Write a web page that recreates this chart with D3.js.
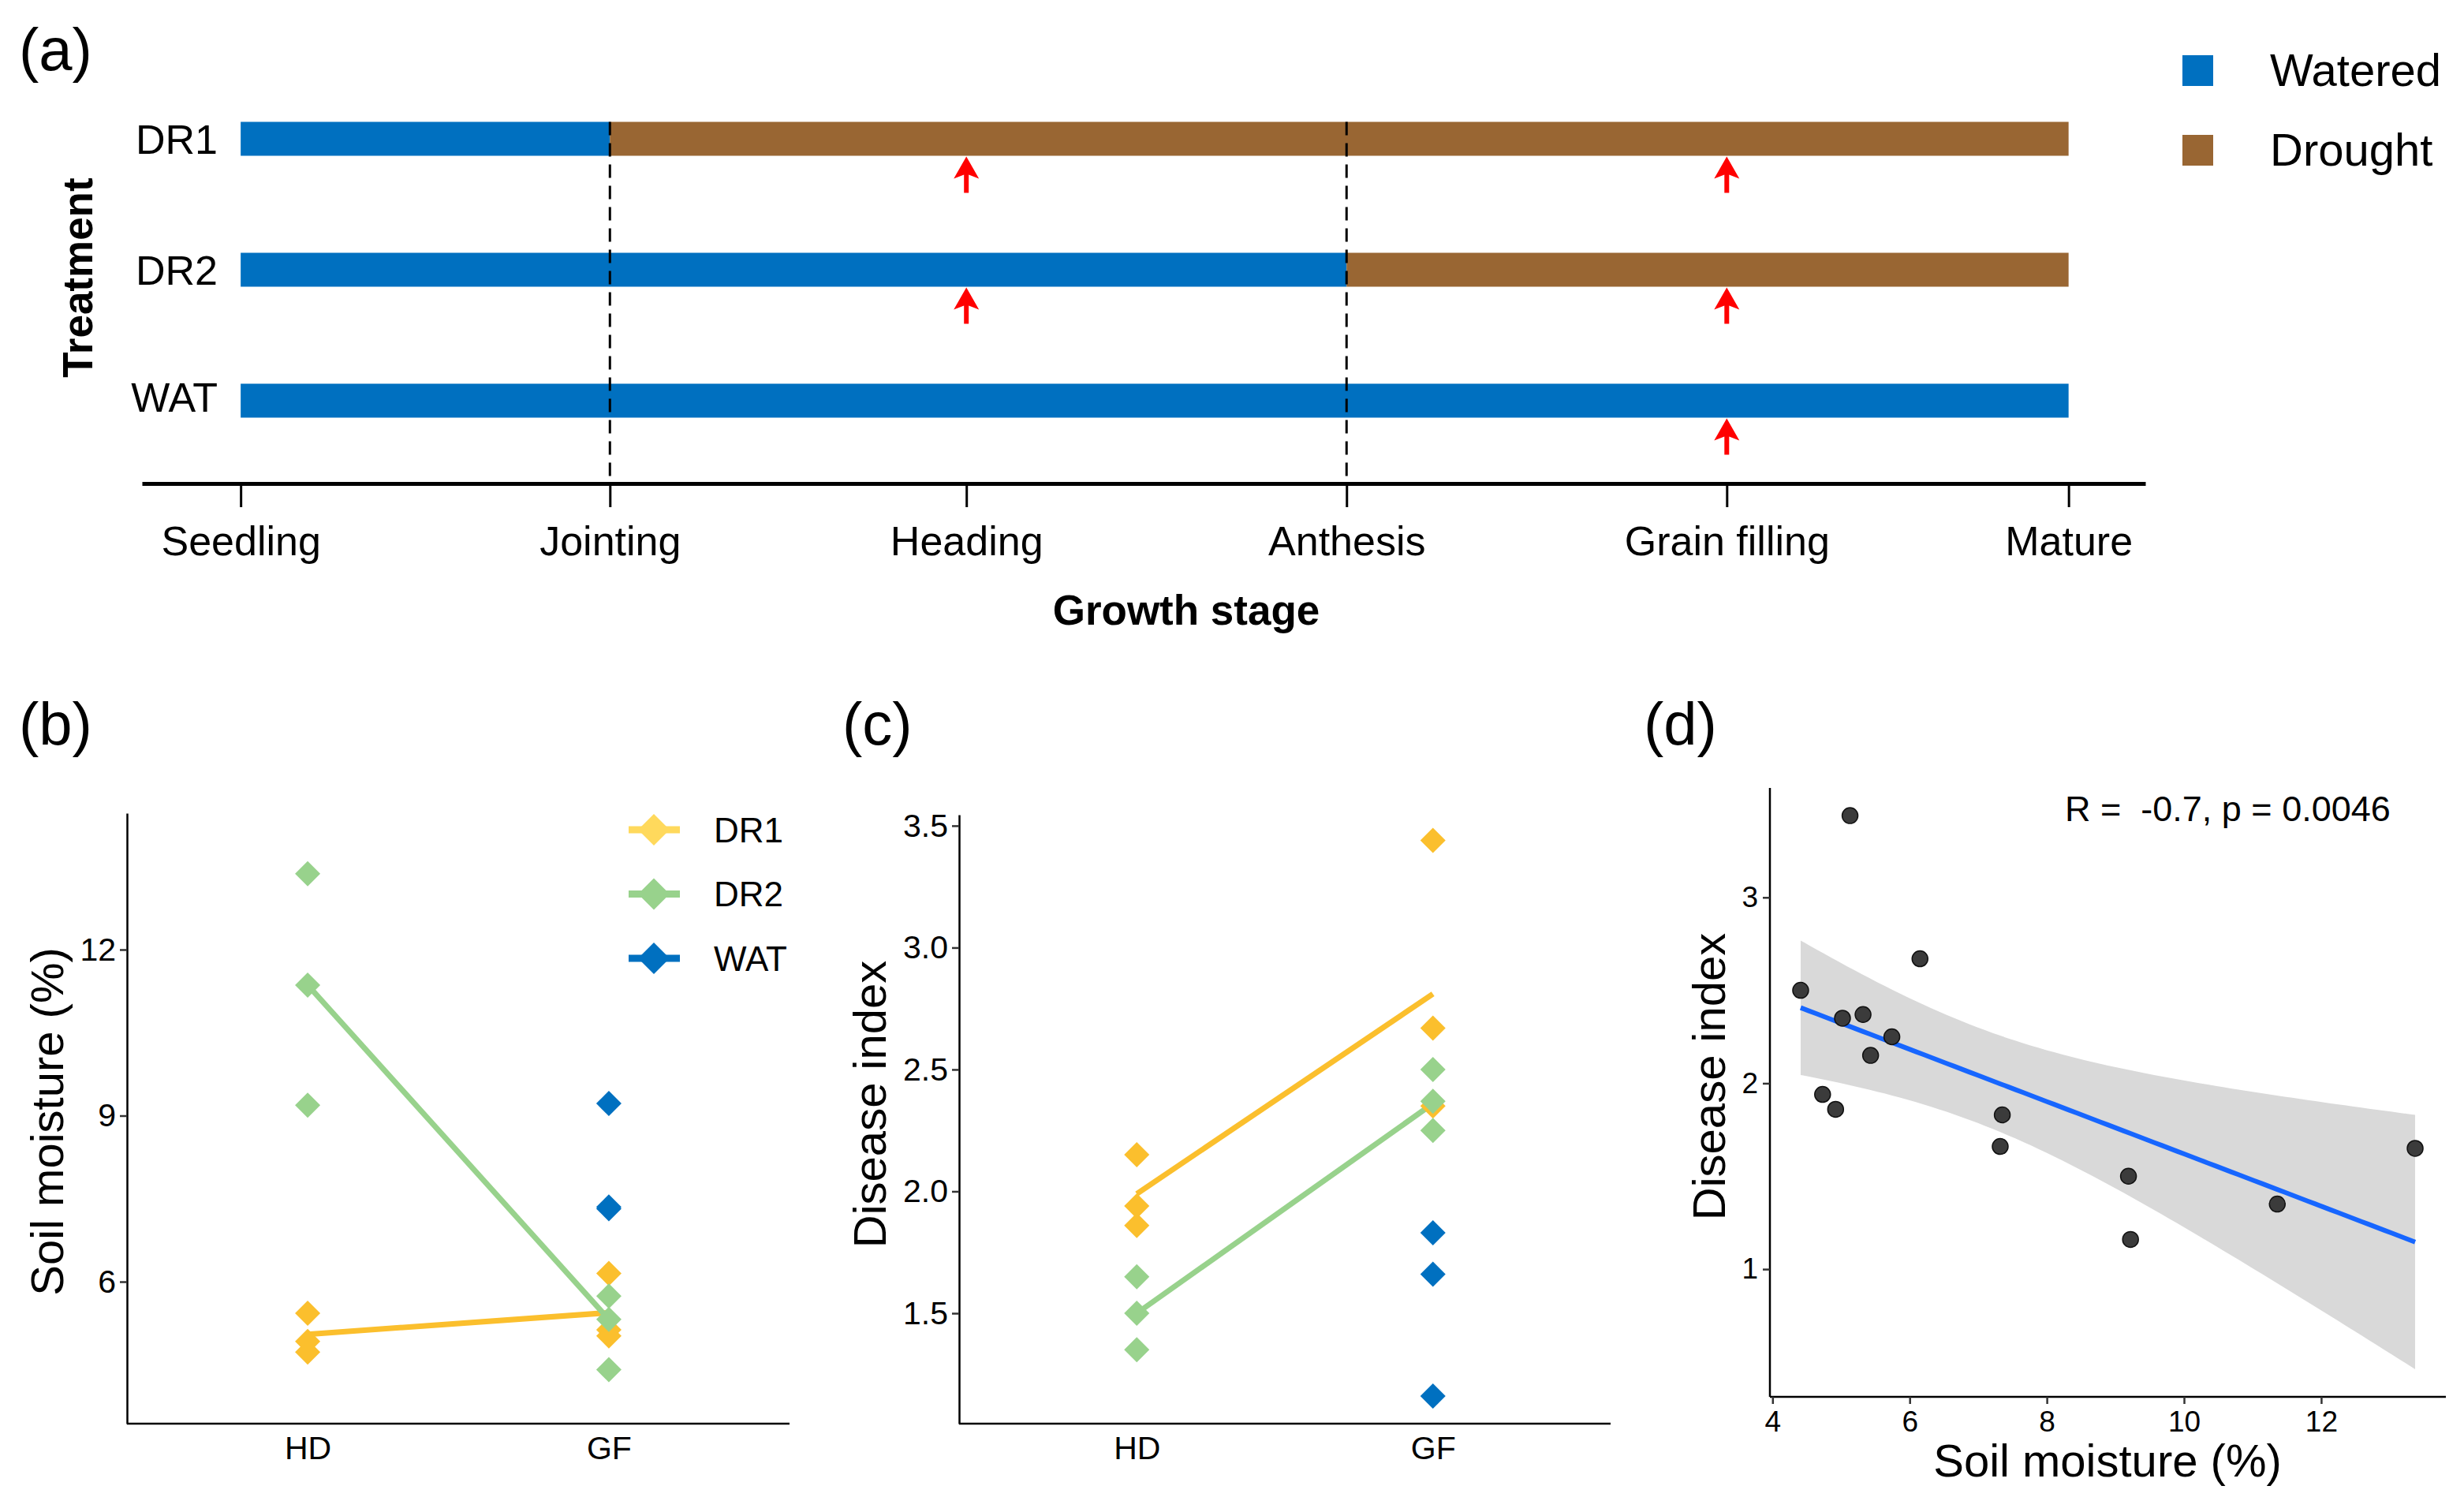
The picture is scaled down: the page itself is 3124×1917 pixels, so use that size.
<!DOCTYPE html>
<html>
<head>
<meta charset="utf-8">
<script src="https://cdn.jsdelivr.net/npm/d3@7"></script>
<style>
  body { margin: 0; background: #fff; }
  svg { display: block; }
  text { font-family: "Liberation Sans", Arial, sans-serif; fill: #000; }
</style>
</head>
<body>
<script>
// ---- data: panel (a) timeline
const stages = ["Seedling", "Jointing", "Heading", "Anthesis", "Grain filling", "Mature"];
const stagePos = [0, 20.2, 39.7, 60.5, 81.3, 100];
const treatments = ["DR1", "DR2", "WAT"];
const droughtFrom = ["Jointing", "Anthesis", null];
const samplingAt = [["Heading", "Grain filling"], ["Heading", "Grain filling"], ["Grain filling"]];
const phaseNames = ["Watered", "Drought"];
const phaseColors = ["#0070C0", "#996633"];

// ---- data: samples (b, c, d)
const sampleTrt = ["DR1", "DR1", "DR1", "DR1", "DR1", "DR1",
                   "DR2", "DR2", "DR2", "DR2", "DR2", "DR2",
                   "WAT", "WAT", "WAT"];
const sampleStage = ["HD", "HD", "HD", "GF", "GF", "GF",
                     "HD", "HD", "HD", "GF", "GF", "GF",
                     "GF", "GF", "GF"];
const soilMoisture = [5.43, 4.73, 4.92, 6.15, 5.13, 5.02,
                      13.37, 11.36, 9.19, 4.41, 5.32, 5.74,
                      7.32, 7.35, 9.22];
const diseaseIndex = [2.15, 1.94, 1.86, 2.67, 3.44, 2.35,
                      1.65, 1.35, 1.50, 2.50, 2.37, 2.25,
                      1.66, 1.83, 1.16];

// treatment lines (HD -> GF) as drawn in (b) and (c)
const lineStages = ["HD", "GF"];
const soilLineDR1 = [5.05, 5.44];
const soilLineDR2 = [11.36, 5.32];
const diseaseLineDR1 = [1.99, 2.81];
const diseaseLineDR2 = [1.50, 2.36];

const trtColors = { DR1: "#FBBF2D", DR2: "#98D28C", WAT: "#0070C0" };
const trtLegendColors = { DR1: "#FFD95C", DR2: "#98D28C", WAT: "#0070C0" };
const corLabel = "R =  -0.7, p = 0.0046";
const tCrit = 2.160; // t(0.975, df = 13)

const samples = soilMoisture.map((s, i) => ({
    trt: sampleTrt[i], stage: sampleStage[i], soil: s, disease: diseaseIndex[i]
}));

const svg = d3.select("body").append("svg")
    .attr("width", 3124)
    .attr("height", 1917);

function panelLabel(txt, x, y) {
    svg.append("text").attr("x", x).attr("y", y)
        .attr("font-size", 76).text(txt);
}

function styleAxis(g, lineW, fontSize) {
    g.select(".domain").attr("stroke", "#000").attr("stroke-width", lineW);
    g.selectAll(".tick line").attr("stroke", "#333").attr("stroke-width", lineW);
    g.selectAll(".tick text").attr("font-size", fontSize).attr("fill", "#000")
        .attr("font-family", "Liberation Sans, Arial, sans-serif");
}

// ================= (a)
panelLabel("(a)", 24, 89);

const xA = d3.scaleLinear().domain([-5.4, 104.2]).range([180, 2720]);
const yA = d3.scalePoint().domain(treatments).range([176, 508]);
const barH = 43;
const stageX = s => xA(stagePos[stages.indexOf(s)]);

const segs = [];
treatments.forEach((t, i) => {
    const ds = droughtFrom[i];
    if (ds) {
        segs.push({ t, x0: stagePos[0], x1: stagePos[stages.indexOf(ds)], phase: 0 });
        segs.push({ t, x0: stagePos[stages.indexOf(ds)], x1: stagePos[stagePos.length - 1], phase: 1 });
    } else {
        segs.push({ t, x0: stagePos[0], x1: stagePos[stagePos.length - 1], phase: 0 });
    }
});

svg.append("g").selectAll("rect")
    .data(segs)
    .join("rect")
    .attr("x", d => xA(d.x0))
    .attr("width", d => xA(d.x1) - xA(d.x0))
    .attr("y", d => yA(d.t) - barH / 2)
    .attr("height", barH)
    .attr("fill", d => phaseColors[d.phase]);

// dashed lines where drought begins
const axisAY = 613;
svg.append("g").selectAll("line")
    .data(droughtFrom.filter(d => d))
    .join("line")
    .attr("x1", d => stageX(d)).attr("x2", d => stageX(d))
    .attr("y1", yA("DR1") - barH / 2).attr("y2", axisAY)
    .attr("stroke", "#000").attr("stroke-width", 3)
    .attr("stroke-dasharray", "17 10");

// sampling arrows
const arrows = [];
treatments.forEach((t, i) => samplingAt[i].forEach(s => arrows.push({ t, s })));
svg.append("g").selectAll("path")
    .data(arrows)
    .join("path")
    .attr("transform", d => `translate(${stageX(d.s)},${yA(d.t) + barH / 2 + 1})`)
    .attr("d", "M0,0 L16,28 L3,23 L3,46 L-3,46 L-3,23 L-16,28 Z")
    .attr("fill", "#FF0000");

const axA = svg.append("g")
    .attr("transform", `translate(0,${axisAY})`)
    .call(d3.axisBottom(xA).tickValues(stagePos).tickFormat((d, i) => stages[i])
        .tickSize(30).tickSizeOuter(0).tickPadding(24));
styleAxis(axA, 5, 52);
axA.selectAll(".tick line").attr("stroke", "#000").attr("stroke-width", 3);

svg.append("g").selectAll("text")
    .data(treatments)
    .join("text")
    .attr("x", 276)
    .attr("y", d => yA(d))
    .attr("dy", (d, i) => i === 2 ? "0.26em" : "0.36em")
    .attr("text-anchor", "end")
    .attr("font-size", 52)
    .text(d => d);

svg.append("text")
    .attr("transform", "translate(117,352) rotate(-90)")
    .attr("text-anchor", "middle")
    .attr("font-size", 53).attr("font-weight", "bold")
    .text("Treatment");

svg.append("text")
    .attr("x", 1504).attr("y", 792)
    .attr("text-anchor", "middle")
    .attr("font-size", 53).attr("font-weight", "bold")
    .text("Growth stage");

const legA = svg.append("g").selectAll("g")
    .data(phaseNames)
    .join("g")
    .attr("transform", (d, i) => `translate(2767,${70 + i * 101})`);
legA.append("rect").attr("width", 39).attr("height", 39)
    .attr("fill", (d, i) => phaseColors[i]);
legA.append("text").attr("x", 111).attr("y", 39)
    .attr("font-size", 58).text(d => d);

// ================= helpers for (b) and (c)
const diamond = d3.symbol(d3.symbolSquare, 512);

function stagePanel(opts) {
    const x = d3.scalePoint().domain(lineStages).range([opts.x0, opts.x1]).padding(0.6);
    const y = d3.scaleLinear().domain(opts.domain).range([opts.yb, opts.yt]);

    const lines = [
        { trt: "DR1", vals: opts.lineDR1 },
        { trt: "DR2", vals: opts.lineDR2 }
    ];
    const line = d3.line().x((d, i) => x(lineStages[i])).y(d => y(d));
    svg.append("g").selectAll("path")
        .data(lines)
        .join("path")
        .attr("d", d => line(d.vals))
        .attr("fill", "none")
        .attr("stroke", d => trtColors[d.trt])
        .attr("stroke-width", 7);

    svg.append("g").selectAll("path")
        .data(samples)
        .join("path")
        .attr("d", diamond)
        .attr("transform", d => `translate(${x(d.stage)},${y(d[opts.key])}) rotate(45)`)
        .attr("fill", d => trtColors[d.trt]);

    const gx = svg.append("g")
        .attr("transform", `translate(0,${opts.yb})`)
        .call(d3.axisBottom(x).tickSize(0).tickPadding(16));
    styleAxis(gx, 2.5, 41);
    gx.select(".domain").attr("d", `M${opts.x0},0H${opts.x1}`);

    const gy = svg.append("g")
        .attr("transform", `translate(${opts.x0},0)`)
        .call(d3.axisLeft(y).tickValues(opts.ticks).tickFormat(opts.fmt)
            .tickSize(9).tickSizeOuter(0).tickPadding(5));
    styleAxis(gy, 2.5, 41);

    svg.append("text")
        .attr("transform", `translate(${opts.titleX},${opts.titleY}) rotate(-90)`)
        .attr("text-anchor", "middle")
        .attr("font-size", 58)
        .text(opts.title);
}

// ================= (b)
panelLabel("(b)", 24, 944);
stagePanel({
    x0: 161, x1: 1001, yb: 1805, yt: 1031,
    domain: [3.435, 14.465], key: "soil",
    ticks: [6, 9, 12], fmt: d3.format("d"),
    lineDR1: soilLineDR1, lineDR2: soilLineDR2,
    title: "Soil moisture (%)", titleX: 80, titleY: 1422
});

// legend (b)
const legB = svg.append("g").selectAll("g")
    .data(treatments)
    .join("g")
    .attr("transform", (d, i) => `translate(829,${1052 + i * 81.5})`);
legB.append("line")
    .attr("x1", -32).attr("x2", 33)
    .attr("stroke", d => trtLegendColors[d]).attr("stroke-width", 9);
legB.append("path")
    .attr("d", d3.symbol(d3.symbolSquare, 800))
    .attr("transform", "rotate(45)")
    .attr("fill", d => trtLegendColors[d]);
legB.append("text")
    .attr("x", 76).attr("dy", "0.36em")
    .attr("font-size", 44).text(d => d);

// ================= (c)
panelLabel("(c)", 1068, 944);
stagePanel({
    x0: 1216, x1: 2042, yb: 1805, yt: 1033,
    domain: [1.047, 3.545], key: "disease",
    ticks: [1.5, 2.0, 2.5, 3.0, 3.5], fmt: d3.format(".1f"),
    lineDR1: diseaseLineDR1, lineDR2: diseaseLineDR2,
    title: "Disease index", titleX: 1123, titleY: 1400
});

// ================= (d)
panelLabel("(d)", 2084, 944);

const n = samples.length;
const mx = d3.mean(samples, d => d.soil);
const my = d3.mean(samples, d => d.disease);
const sxx = d3.sum(samples, d => (d.soil - mx) ** 2);
const sxy = d3.sum(samples, d => (d.soil - mx) * (d.disease - my));
const slope = sxy / sxx;
const icpt = my - slope * mx;
const sse = d3.sum(samples, d => (d.disease - (icpt + slope * d.soil)) ** 2);
const sres = Math.sqrt(sse / (n - 2));

const [xmin, xmax] = d3.extent(samples, d => d.soil);
const fit = d3.range(0, 81).map(k => {
    const xv = xmin + (xmax - xmin) * k / 80;
    const yv = icpt + slope * xv;
    const se = sres * Math.sqrt(1 / n + (xv - mx) ** 2 / sxx);
    return { x: xv, y: yv, lo: yv - tCrit * se, hi: yv + tCrit * se };
});

const expand = ([a, b]) => [a - (b - a) * 0.05, b + (b - a) * 0.05];
const yExt = d3.extent([...samples.map(d => d.disease), ...fit.map(d => d.lo), ...fit.map(d => d.hi)]);

const xD = d3.scaleLinear().domain(expand([xmin, xmax])).range([2244, 3101]);
const yD = d3.scaleLinear().domain(expand(yExt)).range([1771, 999]);

svg.append("path")
    .datum(fit)
    .attr("d", d3.area().x(d => xD(d.x)).y0(d => yD(d.lo)).y1(d => yD(d.hi)))
    .attr("fill", "#D9D9D9");

svg.append("path")
    .datum(fit)
    .attr("d", d3.line().x(d => xD(d.x)).y(d => yD(d.y)))
    .attr("fill", "none")
    .attr("stroke", "#1766FF")
    .attr("stroke-width", 6);

svg.append("g").selectAll("circle")
    .data(samples)
    .join("circle")
    .attr("cx", d => xD(d.soil))
    .attr("cy", d => yD(d.disease))
    .attr("r", 10)
    .attr("fill", "#3b3b3b")
    .attr("stroke", "#111")
    .attr("stroke-width", 1.5);

const gxD = svg.append("g")
    .attr("transform", "translate(0,1771)")
    .call(d3.axisBottom(xD).tickValues([4, 6, 8, 10, 12]).tickSize(9).tickSizeOuter(0).tickPadding(9));
styleAxis(gxD, 2.5, 37);
gxD.select(".domain").attr("d", `M${xD.range()[0]},0H${xD.range()[1]}`);

const gyD = svg.append("g")
    .attr("transform", "translate(2244,0)")
    .call(d3.axisLeft(yD).tickValues([1, 2, 3]).tickFormat(d3.format("d"))
        .tickSize(9).tickSizeOuter(0).tickPadding(6));
styleAxis(gyD, 2.5, 37);
gyD.select(".domain").attr("d", `M0,${yD.range()[0]}V${yD.range()[1]}`);

svg.append("text")
    .attr("transform", "translate(2187,1365) rotate(-90)")
    .attr("text-anchor", "middle")
    .attr("font-size", 58)
    .text("Disease index");

svg.append("text")
    .attr("x", 2672).attr("y", 1872)
    .attr("text-anchor", "middle")
    .attr("font-size", 58)
    .text("Soil moisture (%)");

svg.append("text")
    .attr("x", 2618).attr("y", 1041)
    .attr("font-size", 45)
    .style("white-space", "pre")
    .text(corLabel);
</script>
</body>
</html>
